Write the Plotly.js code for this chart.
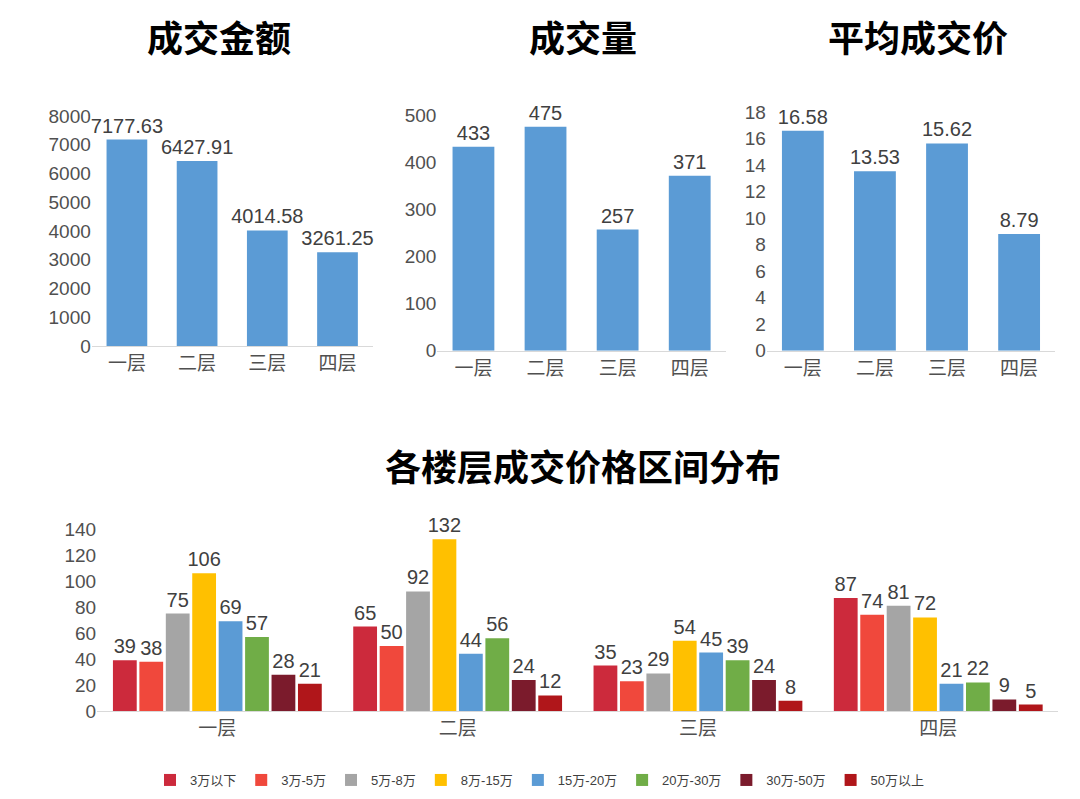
<!DOCTYPE html>
<html><head><meta charset="utf-8">
<script src="https://cdn.plot.ly/plotly-3.0.1.min.js"></script>
<style>body{margin:0;background:#fff}#g{width:1080px;height:799px}</style>
</head><body><div id="g"></div>
<script>
const floors = ['一层', '二层', '三层', '四层']
const amount = [7177.63, 6427.91, 4014.58, 3261.25]
const volume = [433, 475, 257, 371]
const avgPrice = [16.58, 13.53, 15.62, 8.79]
const ranges = ['3万以下', '3万-5万', '5万-8万', '8万-15万', '15万-20万', '20万-30万', '30万-50万', '50万以上']
const rangeColors = ['#CC2A3C', '#F0483C', '#A5A5A5', '#FFC000', '#5B9BD5', '#70AD47', '#7B1B2C', '#B0161A']
const dist = [
  [39, 65, 35, 87],
  [38, 50, 23, 74],
  [75, 92, 29, 81],
  [106, 132, 54, 72],
  [69, 44, 45, 21],
  [57, 56, 39, 22],
  [28, 24, 24, 9],
  [21, 12, 8, 5]
]

const tickFont = {family: 'Liberation Sans, Noto Sans CJK SC', size: 19, color: '#505050'}
const labelFont = {family: 'Liberation Sans', size: 20, color: '#404040'}
let traces = []
const tops = [[amount, 'x', 'y', 2], [volume, 'x2', 'y2', 0], [avgPrice, 'x3', 'y3', 2]]
tops.forEach(([vals, xa, ya, d]) => {
  traces.push({type: 'bar', x: floors, y: vals, xaxis: xa, yaxis: ya, marker: {color: '#5B9BD5'},
    text: vals.map(v => d ? v.toFixed(2) : String(v)), textposition: 'outside', cliponaxis: false,
    constraintext: 'none', textfont: labelFont, width: 0.58, showlegend: false, hoverinfo: 'none'})
})
ranges.forEach((r, i) => {
  traces.push({type: 'bar', name: r, x: floors, y: dist[i], xaxis: 'x4', yaxis: 'y4',
    marker: {color: rangeColors[i]}, text: dist[i].map(String), textposition: 'outside',
    constraintext: 'none', cliponaxis: false, textfont: labelFont, hoverinfo: 'none'})
})

const baseX = {tickfont: tickFont, showline: true, linecolor: '#D9D9D9', ticks: '', fixedrange: true}
const baseY = {tickfont: tickFont, showgrid: false, zeroline: false, showline: false, ticks: ''}
const layout = {
  width: 1080, height: 799, margin: {l: 0, r: 0, t: 0, b: 0},
  paper_bgcolor: '#fff', plot_bgcolor: '#fff', bargap: 0.12, bargroupgap: 0.1,
  xaxis: Object.assign({domain: [0.085, 0.345], anchor: 'y'}, baseX),
  yaxis: Object.assign({domain: [0.567, 0.855], range: [0, 8000], dtick: 1000, anchor: 'x'}, baseY),
  xaxis2: Object.assign({domain: [0.405, 0.672], anchor: 'y2'}, baseX),
  yaxis2: Object.assign({domain: [0.561, 0.856], range: [0, 500], dtick: 100, anchor: 'x2'}, baseY),
  xaxis3: Object.assign({domain: [0.71, 0.977], anchor: 'y3'}, baseX),
  yaxis3: Object.assign({domain: [0.561, 0.86], range: [0, 18], dtick: 2, anchor: 'x3'}, baseY),
  xaxis4: Object.assign({domain: [0.09, 0.98], anchor: 'y4'}, baseX),
  yaxis4: Object.assign({domain: [0.11, 0.338], range: [0, 140], dtick: 20, anchor: 'x4', showgrid: true, gridcolor: '#E0E0E0'}, baseY),
  legend: {orientation: 'h', x: 0.5, xanchor: 'center', y: 0.005, yanchor: 'bottom',
    font: {family: 'Liberation Sans, Noto Sans CJK SC', size: 13, color: '#404040'}},
  annotations: [
    ['成交金额', 0.203, 0.955], ['成交量', 0.54, 0.955], ['平均成交价', 0.85, 0.955], ['各楼层成交价格区间分布', 0.54, 0.418]
  ].map(([t, x, y]) => ({text: '<b>' + t + '</b>', x: x, y: y, xref: 'paper', yref: 'paper', showarrow: false,
    xanchor: 'center', yanchor: 'middle', font: {family: 'Noto Sans CJK SC', size: 36, color: '#000'}}))
}
Plotly.newPlot('g', traces, layout, {displayModeBar: false, staticPlot: true})
</script></body></html>
